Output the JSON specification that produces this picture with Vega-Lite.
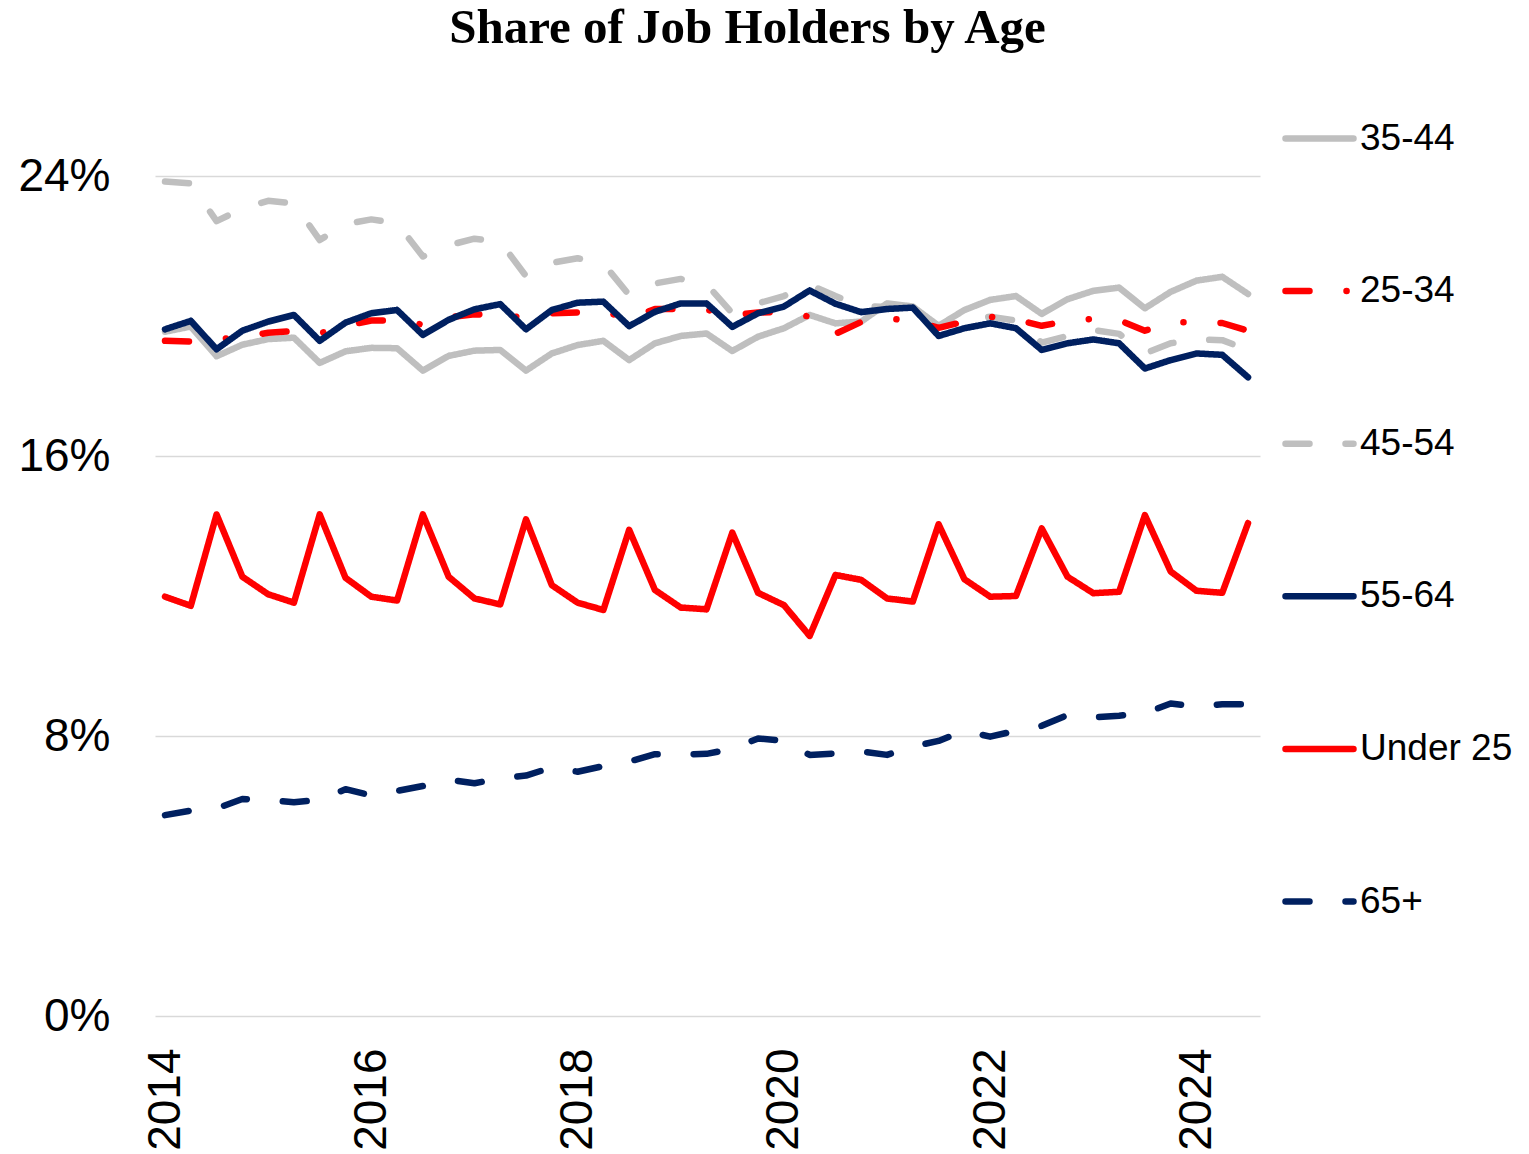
{
  "$schema": "https://vega.github.io/schema/vega-lite/v6.json",
  "width": 1105,
  "height": 840,
  "autosize": {"type": "none"},
  "padding": {"left": 155, "top": 176, "right": 269, "bottom": 138},
  "background": "white",
  "title": {
    "text": "Share of Job Holders by Age",
    "font": "Liberation Serif",
    "fontSize": 49,
    "fontWeight": "bold",
    "color": "#000000",
    "anchor": "middle",
    "frame": "group",
    "dx": 40,
    "offset": 9,
    "baseline": "alphabetic"
  },
  "config": {
    "view": {"stroke": null},
    "axis": {"labelFont": "Liberation Sans", "labelColor": "#000000", "ticks": false, "tickSize": 0, "domain": false},
    "legend": {"labelFont": "Liberation Sans"}
  },
  "data": {
    "values": [
      {"q":2014.0,"age":"35-44","pct":19.55},{"q":2014.25,"age":"35-44","pct":19.7},{"q":2014.5,"age":"35-44","pct":18.85},{"q":2014.75,"age":"35-44","pct":19.18},
      {"q":2015.0,"age":"35-44","pct":19.34},{"q":2015.25,"age":"35-44","pct":19.38},{"q":2015.5,"age":"35-44","pct":18.66},{"q":2015.75,"age":"35-44","pct":18.99},
      {"q":2016.0,"age":"35-44","pct":19.09},{"q":2016.25,"age":"35-44","pct":19.08},{"q":2016.5,"age":"35-44","pct":18.44},{"q":2016.75,"age":"35-44","pct":18.86},
      {"q":2017.0,"age":"35-44","pct":19.01},{"q":2017.25,"age":"35-44","pct":19.03},{"q":2017.5,"age":"35-44","pct":18.44},{"q":2017.75,"age":"35-44","pct":18.93},
      {"q":2018.0,"age":"35-44","pct":19.17},{"q":2018.25,"age":"35-44","pct":19.29},{"q":2018.5,"age":"35-44","pct":18.74},{"q":2018.75,"age":"35-44","pct":19.22},
      {"q":2019.0,"age":"35-44","pct":19.43},{"q":2019.25,"age":"35-44","pct":19.5},{"q":2019.5,"age":"35-44","pct":19.0},{"q":2019.75,"age":"35-44","pct":19.41},
      {"q":2020.0,"age":"35-44","pct":19.65},{"q":2020.25,"age":"35-44","pct":20.03},{"q":2020.5,"age":"35-44","pct":19.79},{"q":2020.75,"age":"35-44","pct":19.84},
      {"q":2021.0,"age":"35-44","pct":20.36},{"q":2021.25,"age":"35-44","pct":20.27},{"q":2021.5,"age":"35-44","pct":19.72},{"q":2021.75,"age":"35-44","pct":20.17},
      {"q":2022.0,"age":"35-44","pct":20.46},{"q":2022.25,"age":"35-44","pct":20.57},{"q":2022.5,"age":"35-44","pct":20.06},{"q":2022.75,"age":"35-44","pct":20.48},
      {"q":2023.0,"age":"35-44","pct":20.72},{"q":2023.25,"age":"35-44","pct":20.81},{"q":2023.5,"age":"35-44","pct":20.22},{"q":2023.75,"age":"35-44","pct":20.69},
      {"q":2024.0,"age":"35-44","pct":21.01},{"q":2024.25,"age":"35-44","pct":21.12},{"q":2024.5,"age":"35-44","pct":20.63},

      {"q":2014.0,"age":"25-34","pct":19.29},{"q":2014.25,"age":"25-34","pct":19.27},{"q":2014.5,"age":"25-34","pct":19.33},{"q":2014.75,"age":"25-34","pct":19.4},
      {"q":2015.0,"age":"25-34","pct":19.52},{"q":2015.25,"age":"25-34","pct":19.57},{"q":2015.5,"age":"25-34","pct":19.5},{"q":2015.75,"age":"25-34","pct":19.72},
      {"q":2016.0,"age":"25-34","pct":19.87},{"q":2016.25,"age":"25-34","pct":19.88},{"q":2016.5,"age":"25-34","pct":19.75},{"q":2016.75,"age":"25-34","pct":19.96},
      {"q":2017.0,"age":"25-34","pct":20.05},{"q":2017.25,"age":"25-34","pct":20.03},{"q":2017.5,"age":"25-34","pct":19.95},{"q":2017.75,"age":"25-34","pct":20.08},
      {"q":2018.0,"age":"25-34","pct":20.1},{"q":2018.25,"age":"25-34","pct":20.12},{"q":2018.5,"age":"25-34","pct":19.93},{"q":2018.75,"age":"25-34","pct":20.2},
      {"q":2019.0,"age":"25-34","pct":20.2},{"q":2019.25,"age":"25-34","pct":20.18},{"q":2019.5,"age":"25-34","pct":20.02},{"q":2019.75,"age":"25-34","pct":20.1},
      {"q":2020.0,"age":"25-34","pct":20.12},{"q":2020.25,"age":"25-34","pct":19.98},{"q":2020.5,"age":"25-34","pct":19.49},{"q":2020.75,"age":"25-34","pct":19.83},
      {"q":2021.0,"age":"25-34","pct":19.92},{"q":2021.25,"age":"25-34","pct":19.88},{"q":2021.5,"age":"25-34","pct":19.66},{"q":2021.75,"age":"25-34","pct":19.84},
      {"q":2022.0,"age":"25-34","pct":19.98},{"q":2022.25,"age":"25-34","pct":19.9},{"q":2022.5,"age":"25-34","pct":19.72},{"q":2022.75,"age":"25-34","pct":19.86},
      {"q":2023.0,"age":"25-34","pct":19.92},{"q":2023.25,"age":"25-34","pct":19.88},{"q":2023.5,"age":"25-34","pct":19.58},{"q":2023.75,"age":"25-34","pct":19.82},
      {"q":2024.0,"age":"25-34","pct":19.82},{"q":2024.25,"age":"25-34","pct":19.8},{"q":2024.5,"age":"25-34","pct":19.58},

      {"q":2014.0,"age":"45-54","pct":23.84},{"q":2014.25,"age":"45-54","pct":23.79},{"q":2014.5,"age":"45-54","pct":22.71},{"q":2014.75,"age":"45-54","pct":23.07},
      {"q":2015.0,"age":"45-54","pct":23.29},{"q":2015.25,"age":"45-54","pct":23.22},{"q":2015.5,"age":"45-54","pct":22.17},{"q":2015.75,"age":"45-54","pct":22.63},
      {"q":2016.0,"age":"45-54","pct":22.76},{"q":2016.25,"age":"45-54","pct":22.65},{"q":2016.5,"age":"45-54","pct":21.7},{"q":2016.75,"age":"45-54","pct":22.02},
      {"q":2017.0,"age":"45-54","pct":22.21},{"q":2017.25,"age":"45-54","pct":22.12},{"q":2017.5,"age":"45-54","pct":21.14},{"q":2017.75,"age":"45-54","pct":21.52},
      {"q":2018.0,"age":"45-54","pct":21.65},{"q":2018.25,"age":"45-54","pct":21.5},{"q":2018.5,"age":"45-54","pct":20.6},{"q":2018.75,"age":"45-54","pct":20.93},
      {"q":2019.0,"age":"45-54","pct":21.06},{"q":2019.25,"age":"45-54","pct":20.91},{"q":2019.5,"age":"45-54","pct":20.08},{"q":2019.75,"age":"45-54","pct":20.36},
      {"q":2020.0,"age":"45-54","pct":20.57},{"q":2020.25,"age":"45-54","pct":20.89},{"q":2020.5,"age":"45-54","pct":20.57},{"q":2020.75,"age":"45-54","pct":20.28},
      {"q":2021.0,"age":"45-54","pct":20.26},{"q":2021.25,"age":"45-54","pct":20.2},{"q":2021.5,"age":"45-54","pct":19.7},{"q":2021.75,"age":"45-54","pct":19.88},
      {"q":2022.0,"age":"45-54","pct":19.98},{"q":2022.25,"age":"45-54","pct":19.87},{"q":2022.5,"age":"45-54","pct":19.24},{"q":2022.75,"age":"45-54","pct":19.43},
      {"q":2023.0,"age":"45-54","pct":19.6},{"q":2023.25,"age":"45-54","pct":19.49},{"q":2023.5,"age":"45-54","pct":18.93},{"q":2023.75,"age":"45-54","pct":19.22},
      {"q":2024.0,"age":"45-54","pct":19.33},{"q":2024.25,"age":"45-54","pct":19.31},{"q":2024.5,"age":"45-54","pct":19.03},

      {"q":2014.0,"age":"55-64","pct":19.62},{"q":2014.25,"age":"55-64","pct":19.86},{"q":2014.5,"age":"55-64","pct":19.05},{"q":2014.75,"age":"55-64","pct":19.58},
      {"q":2015.0,"age":"55-64","pct":19.84},{"q":2015.25,"age":"55-64","pct":20.03},{"q":2015.5,"age":"55-64","pct":19.29},{"q":2015.75,"age":"55-64","pct":19.81},
      {"q":2016.0,"age":"55-64","pct":20.08},{"q":2016.25,"age":"55-64","pct":20.17},{"q":2016.5,"age":"55-64","pct":19.46},{"q":2016.75,"age":"55-64","pct":19.89},
      {"q":2017.0,"age":"55-64","pct":20.19},{"q":2017.25,"age":"55-64","pct":20.34},{"q":2017.5,"age":"55-64","pct":19.62},{"q":2017.75,"age":"55-64","pct":20.17},
      {"q":2018.0,"age":"55-64","pct":20.38},{"q":2018.25,"age":"55-64","pct":20.41},{"q":2018.5,"age":"55-64","pct":19.71},{"q":2018.75,"age":"55-64","pct":20.12},
      {"q":2019.0,"age":"55-64","pct":20.36},{"q":2019.25,"age":"55-64","pct":20.36},{"q":2019.5,"age":"55-64","pct":19.69},{"q":2019.75,"age":"55-64","pct":20.08},
      {"q":2020.0,"age":"55-64","pct":20.27},{"q":2020.25,"age":"55-64","pct":20.73},{"q":2020.5,"age":"55-64","pct":20.35},{"q":2020.75,"age":"55-64","pct":20.11},
      {"q":2021.0,"age":"55-64","pct":20.2},{"q":2021.25,"age":"55-64","pct":20.24},{"q":2021.5,"age":"55-64","pct":19.43},{"q":2021.75,"age":"55-64","pct":19.65},
      {"q":2022.0,"age":"55-64","pct":19.79},{"q":2022.25,"age":"55-64","pct":19.65},{"q":2022.5,"age":"55-64","pct":19.03},{"q":2022.75,"age":"55-64","pct":19.22},
      {"q":2023.0,"age":"55-64","pct":19.33},{"q":2023.25,"age":"55-64","pct":19.22},{"q":2023.5,"age":"55-64","pct":18.5},{"q":2023.75,"age":"55-64","pct":18.74},
      {"q":2024.0,"age":"55-64","pct":18.93},{"q":2024.25,"age":"55-64","pct":18.89},{"q":2024.5,"age":"55-64","pct":18.25},

      {"q":2014.0,"age":"Under 25","pct":11.98},{"q":2014.25,"age":"Under 25","pct":11.72},{"q":2014.5,"age":"Under 25","pct":14.33},{"q":2014.75,"age":"Under 25","pct":12.55},
      {"q":2015.0,"age":"Under 25","pct":12.05},{"q":2015.25,"age":"Under 25","pct":11.81},{"q":2015.5,"age":"Under 25","pct":14.33},{"q":2015.75,"age":"Under 25","pct":12.52},
      {"q":2016.0,"age":"Under 25","pct":11.98},{"q":2016.25,"age":"Under 25","pct":11.87},{"q":2016.5,"age":"Under 25","pct":14.33},{"q":2016.75,"age":"Under 25","pct":12.55},
      {"q":2017.0,"age":"Under 25","pct":11.93},{"q":2017.25,"age":"Under 25","pct":11.76},{"q":2017.5,"age":"Under 25","pct":14.19},{"q":2017.75,"age":"Under 25","pct":12.31},
      {"q":2018.0,"age":"Under 25","pct":11.81},{"q":2018.25,"age":"Under 25","pct":11.6},{"q":2018.5,"age":"Under 25","pct":13.89},{"q":2018.75,"age":"Under 25","pct":12.17},
      {"q":2019.0,"age":"Under 25","pct":11.67},{"q":2019.25,"age":"Under 25","pct":11.62},{"q":2019.5,"age":"Under 25","pct":13.81},{"q":2019.75,"age":"Under 25","pct":12.09},
      {"q":2020.0,"age":"Under 25","pct":11.74},{"q":2020.25,"age":"Under 25","pct":10.86},{"q":2020.5,"age":"Under 25","pct":12.6},{"q":2020.75,"age":"Under 25","pct":12.46},
      {"q":2021.0,"age":"Under 25","pct":11.93},{"q":2021.25,"age":"Under 25","pct":11.84},{"q":2021.5,"age":"Under 25","pct":14.05},{"q":2021.75,"age":"Under 25","pct":12.48},
      {"q":2022.0,"age":"Under 25","pct":11.98},{"q":2022.25,"age":"Under 25","pct":12.0},{"q":2022.5,"age":"Under 25","pct":13.93},{"q":2022.75,"age":"Under 25","pct":12.55},
      {"q":2023.0,"age":"Under 25","pct":12.08},{"q":2023.25,"age":"Under 25","pct":12.12},{"q":2023.5,"age":"Under 25","pct":14.31},{"q":2023.75,"age":"Under 25","pct":12.7},
      {"q":2024.0,"age":"Under 25","pct":12.15},{"q":2024.25,"age":"Under 25","pct":12.09},{"q":2024.5,"age":"Under 25","pct":14.08},

      {"q":2014.0,"age":"65+","pct":5.74},{"q":2014.25,"age":"65+","pct":5.87},{"q":2014.5,"age":"65+","pct":5.93},{"q":2014.75,"age":"65+","pct":6.2},
      {"q":2015.0,"age":"65+","pct":6.17},{"q":2015.25,"age":"65+","pct":6.11},{"q":2015.5,"age":"65+","pct":6.17},{"q":2015.75,"age":"65+","pct":6.48},
      {"q":2016.0,"age":"65+","pct":6.3},{"q":2016.25,"age":"65+","pct":6.43},{"q":2016.5,"age":"65+","pct":6.57},{"q":2016.75,"age":"65+","pct":6.75},
      {"q":2017.0,"age":"65+","pct":6.65},{"q":2017.25,"age":"65+","pct":6.79},{"q":2017.5,"age":"65+","pct":6.87},{"q":2017.75,"age":"65+","pct":7.1},
      {"q":2018.0,"age":"65+","pct":6.98},{"q":2018.25,"age":"65+","pct":7.14},{"q":2018.5,"age":"65+","pct":7.27},{"q":2018.75,"age":"65+","pct":7.48},
      {"q":2019.0,"age":"65+","pct":7.47},{"q":2019.25,"age":"65+","pct":7.49},{"q":2019.5,"age":"65+","pct":7.63},{"q":2019.75,"age":"65+","pct":7.93},
      {"q":2020.0,"age":"65+","pct":7.86},{"q":2020.25,"age":"65+","pct":7.46},{"q":2020.5,"age":"65+","pct":7.5},{"q":2020.75,"age":"65+","pct":7.56},
      {"q":2021.0,"age":"65+","pct":7.46},{"q":2021.25,"age":"65+","pct":7.7},{"q":2021.5,"age":"65+","pct":7.86},{"q":2021.75,"age":"65+","pct":8.15},
      {"q":2022.0,"age":"65+","pct":7.98},{"q":2022.25,"age":"65+","pct":8.15},{"q":2022.5,"age":"65+","pct":8.29},{"q":2022.75,"age":"65+","pct":8.6},
      {"q":2023.0,"age":"65+","pct":8.53},{"q":2023.25,"age":"65+","pct":8.58},{"q":2023.5,"age":"65+","pct":8.65},{"q":2023.75,"age":"65+","pct":8.93},
      {"q":2024.0,"age":"65+","pct":8.84},{"q":2024.25,"age":"65+","pct":8.91},{"q":2024.5,"age":"65+","pct":8.91}
    ]
  },
  "encoding": {
    "x": {
      "field": "q",
      "type": "quantitative",
      "scale": {"domain": [2013.903, 2024.616], "nice": false, "zero": false},
      "axis": {
        "title": null,
        "values": [2014, 2016, 2018, 2020, 2022, 2024],
        "format": "d",
        "labelAngle": 270,
        "labelFontSize": 46,
        "labelPadding": 32,
        "grid": false,
        "labelFlush": false,
        "labelOverlap": false
      }
    },
    "y": {
      "field": "pct",
      "type": "quantitative",
      "scale": {"domain": [0, 24], "nice": false},
      "axis": {
        "title": null,
        "values": [0, 8, 16, 24],
        "labelExpr": "datum.value + '%'",
        "labelFontSize": 46,
        "labelPadding": 45,
        "grid": true,
        "gridColor": "#d9d9d9",
        "gridWidth": 1.5,
        "labelFlush": false
      }
    },
    "color": {
      "field": "age",
      "type": "nominal",
      "scale": {
        "domain": ["35-44", "25-34", "45-54", "55-64", "Under 25", "65+"],
        "range": ["#bfbfbf", "#ff0000", "#bfbfbf", "#002060", "#ff0000", "#002060"]
      },
      "legend": {
        "title": null,
        "orient": "none",
        "legendX": 1127,
        "legendY": -75,
        "padding": 0,
        "symbolType": "stroke",
        "symbolSize": 4624,
        "symbolStrokeWidth": 6.5,
        "labelFontSize": 37,
        "labelColor": "#000000",
        "labelOffset": 3,
        "rowPadding": 96.6,
        "symbolLimit": 0,
        "encode": {"symbols": {"update": {"strokeCap": {"value": "round"}}}}
      }
    },
    "strokeDash": {
      "field": "age",
      "type": "nominal",
      "scale": {
        "domain": ["35-44", "25-34", "45-54", "55-64", "Under 25", "65+"],
        "range": [[1, 0], [24, 37, 0.1, 37], [24, 36], [1, 0], [1, 0], [24, 36]]
      }
    }
  },
  "layer": [
    {"transform": [{"filter": {"field": "age", "equal": "65+"}}], "mark": {"type": "line", "strokeWidth": 6.5, "strokeCap": "round", "strokeJoin": "round"}},
    {"transform": [{"filter": {"field": "age", "equal": "Under 25"}}], "mark": {"type": "line", "strokeWidth": 6.5, "strokeCap": "round", "strokeJoin": "round"}},
    {"transform": [{"filter": {"field": "age", "equal": "45-54"}}], "mark": {"type": "line", "strokeWidth": 6.5, "strokeCap": "round", "strokeJoin": "round"}},
    {"transform": [{"filter": {"field": "age", "equal": "35-44"}}], "mark": {"type": "line", "strokeWidth": 6.5, "strokeCap": "round", "strokeJoin": "round"}},
    {"transform": [{"filter": {"field": "age", "equal": "25-34"}}], "mark": {"type": "line", "strokeWidth": 6.5, "strokeCap": "round", "strokeJoin": "round"}},
    {"transform": [{"filter": {"field": "age", "equal": "55-64"}}], "mark": {"type": "line", "strokeWidth": 6.5, "strokeCap": "round", "strokeJoin": "round"}}
  ]
}
